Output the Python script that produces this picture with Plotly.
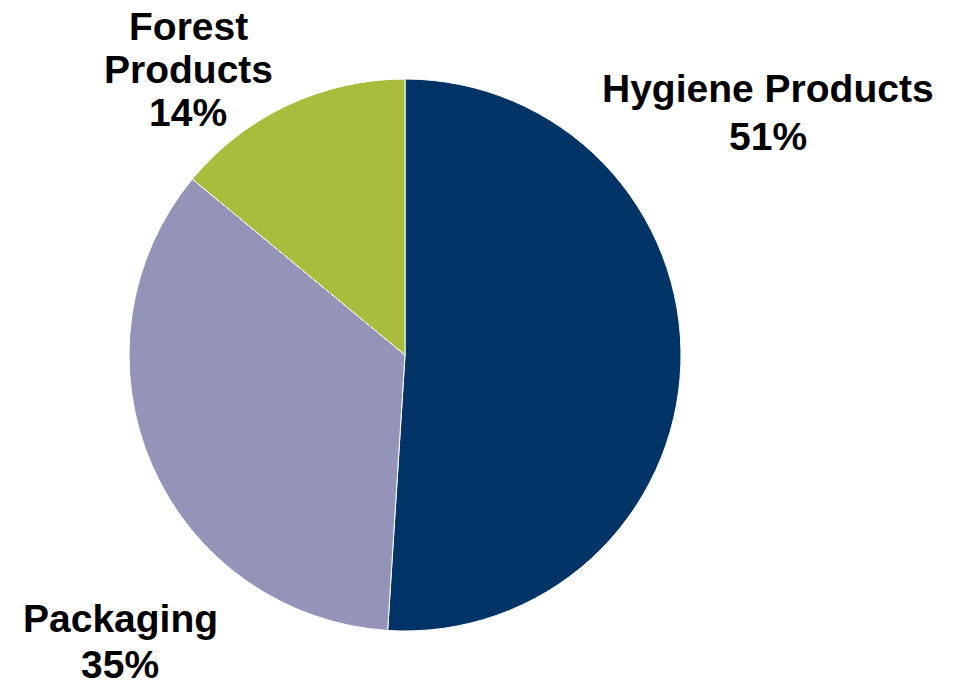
import plotly.graph_objects as go

# Segment shares of sales
segments = ["Hygiene Products", "Packaging", "Forest Products"]
shares = [51, 35, 14]
label_lines = [["Hygiene Products"], ["Packaging"], ["Forest", "Products"]]
colors = ["#003366", "#9494B8", "#A9BC3C"]

W, H = 955, 684

fig = go.Figure(
    go.Pie(
        labels=segments,
        values=shares,
        sort=False,
        direction="clockwise",
        rotation=0,
        marker=dict(colors=colors, line=dict(color="#FFFFFF", width=1)),
        textinfo="none",
        hoverinfo="label+percent",
        domain=dict(x=[129 / W, 681 / W], y=[(H - 631) / H, (H - 79) / H]),
        showlegend=False,
    )
)

# Outside labels: name line(s) followed by the percentage, one line per annotation
label_pos = [  # (center x px, first baseline y px, line gap px)
    (768, 100, 48),
    (120, 630, 46),
    (188, 38, 43),
]
font = dict(family="Liberation Sans, Arial, sans-serif", size=39, color="#000000")
annotations = []
for lines, share, (cx, base, gap) in zip(label_lines, shares, label_pos):
    all_lines = lines + [f"{share}%"]
    for i, txt in enumerate(all_lines):
        b = base + i * gap
        annotations.append(
            dict(
                text=f"<b>{txt}</b>",
                x=cx / W,
                y=(H - b) / H,
                xref="paper",
                yref="paper",
                xanchor="center",
                yanchor="bottom",
                yshift=-12,
                showarrow=False,
                font=font,
            )
        )

fig.update_layout(
    width=W,
    height=H,
    margin=dict(l=0, r=0, t=0, b=0),
    paper_bgcolor="#FFFFFF",
    plot_bgcolor="#FFFFFF",
    annotations=annotations,
)

fig.write_html("out.html")
